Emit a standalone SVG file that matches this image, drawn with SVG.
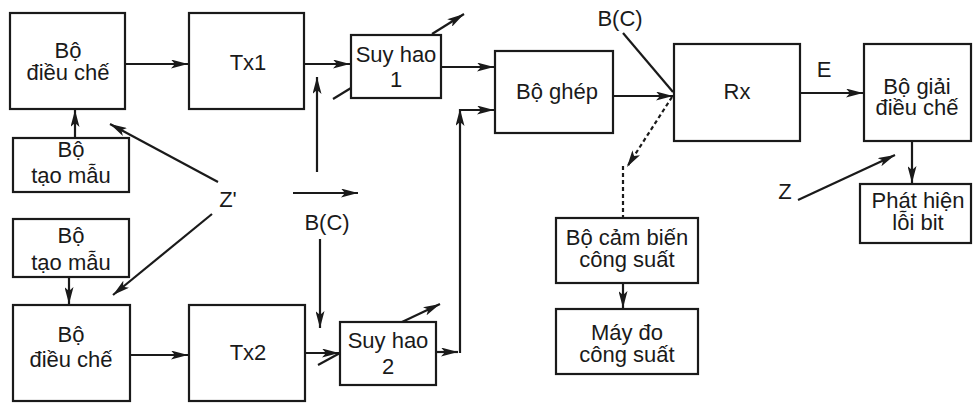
<svg xmlns="http://www.w3.org/2000/svg" width="973" height="403" viewBox="0 0 973 403">
<defs>
<marker id="ah" markerUnits="userSpaceOnUse" viewBox="0 0 17 9" refX="17" refY="4.5" markerWidth="17" markerHeight="9" orient="auto">
<path d="M0,0 L17,4.5 L0,9 L4,4.5 z" fill="#1a1a1a"/>
</marker>
<style>
.box{fill:#fff;stroke:#1a1a1a;stroke-width:2.2}
.t{font-family:"Liberation Sans",Arial,sans-serif;font-size:22px;fill:#1a1a1a;text-anchor:middle}
.c{fill:none;stroke:#1a1a1a;stroke-width:2.2}
.a{marker-end:url(#ah)}
.d{stroke-dasharray:4 3}
</style>
</defs>
<rect width="973" height="403" fill="#fff"/>
<g id="connectors">
<line class="c a" x1="125" y1="64" x2="188" y2="64"/>
<line class="c a" x1="304" y1="64" x2="350" y2="64"/>
<line class="c a" x1="441" y1="67" x2="494" y2="67"/>
<line class="c a" x1="432" y1="34" x2="464" y2="14"/>
<line class="c" x1="333" y1="99" x2="351" y2="88"/>
<line class="c a" x1="317" y1="172" x2="317" y2="77"/>
<line class="c a" x1="75" y1="138" x2="75" y2="110"/>
<line class="c a" x1="218" y1="182" x2="110" y2="124"/>
<line class="c a" x1="212" y1="214" x2="113" y2="295"/>
<line class="c a" x1="293" y1="193" x2="358" y2="193"/>
<line class="c a" x1="320" y1="239" x2="320" y2="328"/>
<line class="c a" x1="69" y1="277" x2="69" y2="304"/>
<line class="c a" x1="130" y1="355" x2="188" y2="355"/>
<line class="c a" x1="305" y1="353" x2="339" y2="353"/>
<line class="c" x1="318" y1="365" x2="340" y2="353"/>
<line class="c a" x1="402" y1="322" x2="440" y2="304"/>
<line class="c a" x1="436" y1="352" x2="458" y2="352"/>
<line class="c a" x1="460" y1="353" x2="460" y2="109"/>
<line class="c a" x1="459" y1="110" x2="494" y2="110"/>
<line class="c a" x1="613" y1="96" x2="673" y2="96"/>
<line class="c" x1="623" y1="33" x2="673" y2="92"/>
<line class="c a d" x1="672" y1="97" x2="627" y2="167"/>
<line class="c d" x1="623" y1="166" x2="623" y2="218"/>
<line class="c a" x1="800" y1="93" x2="863" y2="93"/>
<line class="c a" x1="912" y1="141" x2="912" y2="183"/>
<line class="c a" x1="798" y1="200" x2="895" y2="155"/>
<line class="c a" x1="623" y1="283" x2="623" y2="308"/>
</g>
<g id="mod1"><rect class="box" x="10" y="13" width="115" height="96"/><text class="t" x="68" y="57.5">Bộ</text><text class="t" x="68" y="79.5">điều chế</text></g>
<g id="tx1"><rect class="box" x="189" y="13" width="115" height="96"/><text class="t" x="248" y="70">Tx1</text></g>
<g id="sh1"><rect class="box" x="351" y="35" width="90" height="63"/><text class="t" x="396" y="62">Suy hao</text><text class="t" x="396" y="87">1</text></g>
<g id="gen1"><rect class="box" x="13" y="138" width="116" height="54"/><text class="t" x="71" y="157">Bộ</text><text class="t" x="71" y="183">tạo mẫu</text></g>
<g id="gen2"><rect class="box" x="13" y="219" width="116" height="58"/><text class="t" x="71" y="243">Bộ</text><text class="t" x="71" y="270">tạo mẫu</text></g>
<g id="mod2"><rect class="box" x="13" y="305" width="117" height="96"/><text class="t" x="71" y="342">Bộ</text><text class="t" x="71" y="367">điều chế</text></g>
<g id="tx2"><rect class="box" x="189" y="305" width="116" height="96"/><text class="t" x="248" y="360">Tx2</text></g>
<g id="sh2"><rect class="box" x="340" y="322" width="96" height="63"/><text class="t" x="388" y="348">Suy hao</text><text class="t" x="388" y="374">2</text></g>
<g id="ghep"><rect class="box" x="495" y="51" width="118" height="82"/><text class="t" x="557" y="99">Bộ ghép</text></g>
<g id="rx"><rect class="box" x="674" y="44" width="126" height="97"/><text class="t" x="737" y="99">Rx</text></g>
<g id="demod"><rect class="box" x="864" y="44" width="107" height="97"/><text class="t" x="917" y="94">Bộ giải</text><text class="t" x="917" y="115">điều chế</text></g>
<g id="ber"><rect class="box" x="860" y="184" width="111" height="59"/><text class="t" x="918" y="208">Phát hiện</text><text class="t" x="918" y="230">lỗi bit</text></g>
<g id="sensor"><rect class="box" x="556" y="218" width="142" height="65"/><text class="t" x="627" y="245">Bộ cảm biến</text><text class="t" x="627" y="267">công suất</text></g>
<g id="meter"><rect class="box" x="556" y="309" width="142" height="65"/><text class="t" x="627" y="340">Máy đo</text><text class="t" x="627" y="362">công suất</text></g>
<g id="labels">
<text class="t" x="228" y="207">Z'</text>
<text class="t" x="327" y="230">B(C)</text>
<text class="t" x="620" y="26">B(C)</text>
<text class="t" x="824" y="77">E</text>
<text class="t" x="785" y="199">Z</text>
</g>
</svg>
